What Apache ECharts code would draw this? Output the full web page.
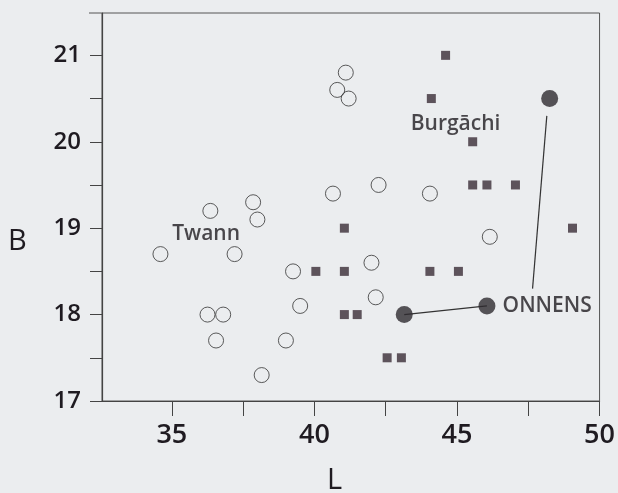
<!DOCTYPE html>
<html>
<head>
<meta charset="utf-8">
<script src="https://cdn.jsdelivr.net/npm/echarts@6/dist/echarts.min.js"></script>
<style>
html,body{margin:0;padding:0;background:#ebedef;}
#chart{width:618px;height:493px;}
</style>
</head>
<body>
<div id="chart"></div>
<script>
// Twann (open circles)
const twannL = [41.1, 40.8, 41.2, 40.65, 42.25, 44.05, 37.85, 36.35, 38.0, 46.15, 34.6, 37.2, 42.0, 39.25, 42.15, 39.5, 36.25, 36.8, 36.55, 39.0, 38.15];
const twannB = [20.8, 20.6, 20.5, 19.4, 19.5, 19.4, 19.3, 19.2, 19.1, 18.9, 18.7, 18.7, 18.6, 18.5, 18.2, 18.1, 18.0, 18.0, 17.7, 17.7, 17.3];
// Burgāchi (squares)
const burgL = [44.6, 44.1, 45.55, 45.55, 46.05, 47.05, 41.05, 49.05, 40.05, 41.05, 44.05, 45.05, 41.05, 41.5, 42.55, 43.05];
const burgB = [21.0, 20.5, 20.0, 19.5, 19.5, 19.5, 19.0, 19.0, 18.5, 18.5, 18.5, 18.5, 18.0, 18.0, 17.5, 17.5];
// Onnens (filled dots)
const onnL = [48.25, 43.15, 46.05];
const onnB = [20.5, 18.0, 18.1];
// connecting line between the two lower Onnens dots, and leader line
const linkL = [43.15, 46.05];
const linkB = [18.0, 18.1];
const leaderL = [47.65, 48.15];
const leaderB = [18.3, 20.3];
// group labels
const labelNames = ['Twann', 'Burgāchi', 'ONNENS'];
const labelL = [36.2, 44.95, 46.6];
const labelB = [18.93, 20.21, 18.1];
const labelAlign = ['center', 'center', 'left'];
// axes
const xTicks = [35, 37.5, 40, 42.5, 45, 47.5, 50];
const xLabels = [35, 40, 45, 50];
const yTicks = [17, 17.5, 18, 18.5, 19, 19.5, 20, 20.5, 21];
const yLabels = [17, 18, 19, 20, 21];

const zip = (a, b) => a.map((v, i) => [v, b[i]]);
const ink = '#1f1b21';
const font = '"Open Sans", Lato, sans-serif';

const chart = echarts.init(document.getElementById('chart'), null, {renderer: 'canvas'});
chart.setOption({
  backgroundColor: '#ebedef',
  animation: false,
  grid: {left: 102, right: 17, top: 13, bottom: 92, show: true, borderColor: '#555', borderWidth: 1, backgroundColor: 'transparent'},
  xAxis: {
    type: 'value', min: 32.55, max: 50,
    axisLine: {show: true, lineStyle: {color: '#444', width: 1.2}},
    axisTick: {show: true, length: 15, customValues: xTicks, lineStyle: {color: '#444'}},
    axisLabel: {customValues: xLabels, margin: 21, fontSize: 27, fontWeight: 600, color: ink, fontFamily: font},
    splitLine: {show: false}
  },
  yAxis: {
    type: 'value', min: 17, max: 21.49,
    axisLine: {show: true, lineStyle: {color: '#444', width: 1.2}},
    axisTick: {show: true, length: 12, customValues: yTicks, lineStyle: {color: '#444'}},
    axisLabel: {customValues: yLabels, margin: 21, fontSize: 24, fontWeight: 600, color: ink, fontFamily: font},
    splitLine: {show: false}
  },
  graphic: [
    {type: 'line', shape: {x1: 89, y1: 13, x2: 102, y2: 13}, style: {stroke: '#555', lineWidth: 1}},
    {type: 'text', left: 8, top: 227, style: {text: 'B', fontSize: 29, fontWeight: 500, fill: ink, fontFamily: font}},
    {type: 'text', left: 327, top: 466, style: {text: 'L', fontSize: 29, fontWeight: 500, fill: ink, fontFamily: font}}
  ],
  series: [
    {type: 'line', data: zip(linkL, linkB), showSymbol: false, symbol: 'none', lineStyle: {color: '#333', width: 1.2}, z: 1},
    {type: 'line', data: zip(leaderL, leaderB), showSymbol: false, symbol: 'none', lineStyle: {color: '#333', width: 1.2}, z: 1},
    {type: 'scatter', data: zip(twannL, twannB), symbol: 'circle', symbolSize: 15,
      itemStyle: {color: 'rgba(0,0,0,0)', borderColor: '#333', borderWidth: 1}, z: 2},
    {type: 'scatter', data: zip(burgL, burgB), symbol: 'rect', symbolSize: 9,
      itemStyle: {color: '#3a2c36'}, z: 2},
    {type: 'scatter', data: zip(onnL, onnB), symbol: 'circle', symbolSize: 17,
      itemStyle: {color: '#2e2a30'}, z: 3},
    {type: 'scatter', symbol: 'circle', symbolSize: 1, z: 4, silent: true,
      itemStyle: {color: 'rgba(0,0,0,0)'},
      data: labelNames.map((n, i) => ({value: [labelL[i], labelB[i]], name: n,
        label: {align: labelAlign[i]}})),
      label: {show: true, formatter: p => p.name, fontSize: 21, fontWeight: 600, color: ink, fontFamily: font,
        position: 'inside', align: 'center', verticalAlign: 'middle'}}
  ]
});
</script>
</body>
</html>
